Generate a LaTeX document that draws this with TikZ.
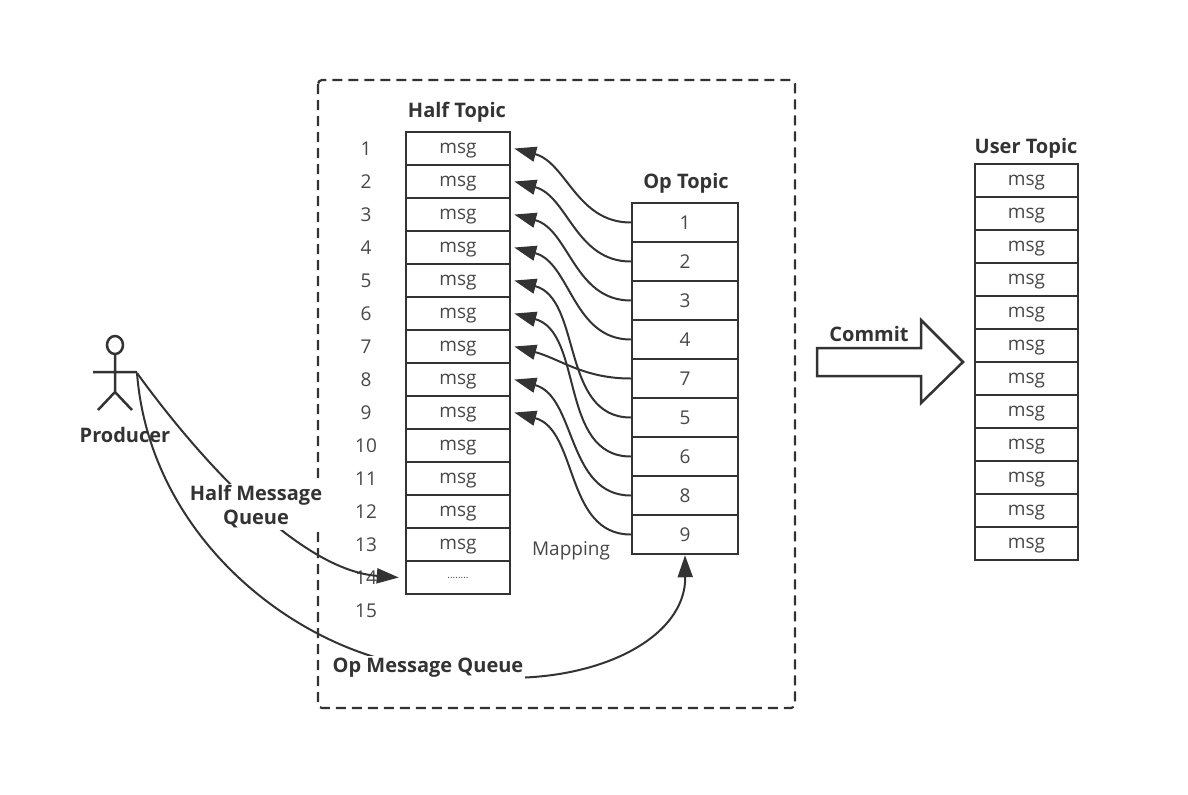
\documentclass[tikz,border=0pt]{standalone}
\usepackage{fontspec}
\setmainfont{Open Sans}
\usetikzlibrary{arrows.meta}
\definecolor{ink}{HTML}{333333}
\definecolor{txt}{HTML}{474747}

\begin{document}
\begin{tikzpicture}[x=0.5pt,y=0.5pt,
    cell/.style={draw=ink,line width=1.25pt,inner sep=0pt,text depth=0pt,text=txt,font=\fontsize{9.5}{11}\selectfont},
    half/.style={cell,minimum width=52pt,minimum height=16.5pt},
    op/.style={cell,minimum width=53pt,minimum height=19.5pt},
    user/.style={cell,minimum width=51.5pt,minimum height=16.5pt},
    idx/.style={text=txt,font=\fontsize{9.5}{11}\selectfont},
    head/.style={text=ink,font=\fontsize{10}{12}\selectfont\bfseries},
    wire/.style={draw=ink,line width=1pt},
    map/.style={wire,-{Triangle[length=11pt,width=7.5pt]}}]
  \useasboundingbox (0,0) rectangle (1188,-794);
  \draw[ink,line width=1.1pt,dash pattern=on 5pt off 3pt,rounded corners=2pt] (318,-80) rectangle (795,-708);

  \foreach \i in {1,...,15} {
    \node[idx] (n\i) at (366,-115.5-33*\i) {\i};
  }
  \foreach \i in {1,...,13} {
    \node[half] (h\i) at (458,-115.5-33*\i) {msg};
  }
  \node[half] (h14) at (458,-577.5) {\tiny........};
  \node[head] (halftitle) at (457,-112) {Half Topic};

  \foreach \v[count=\i] in {1,2,3,4,7,5,6,8,9} {
    \node[op] (o\i) at (685,-183.5-39*\i) {\v};
    \draw[map] (o\i.west) to[out=180,in=-15] ([xshift=1.5pt]h\v.east);
  }
  \node[head] (optitle) at (686,-183) {Op Topic};
  \node[idx] (mapping) at (571,-551) {Mapping};

  \foreach \i in {1,...,12} {
    \node[user] (u\i) at (1026.5,-147.5-33*\i) {msg};
  }
  \node[head] (usertitle) at (1026,-148) {User Topic};

  \draw[ink,line width=1.25pt] (817,-348) -- (921,-348) -- (921,-320) -- (963,-362)
    -- (921,-403) -- (921,-376) -- (817,-376) -- cycle;
  \node[head] (commit) at (869,-334) {Commit};

  \draw[ink,line width=1.25pt] (115,-345) ellipse [x radius=8,y radius=9]
    (115,-354) -- (115,-392) (93,-372) -- (137,-372)
    (98,-410) -- (115,-392) -- (132,-410);
  \coordinate (hand) at (137,-373);
  \node[head] (producer) at (125,-435) {Producer};

  \draw[map] (hand) .. controls (200,-460) and (300,-570) .. ([xshift=-3pt]h14.west);
  \node[head,fill=white,align=center,inner sep=1pt] (halfq) at (256,-507) {Half Message\\Queue};

  \coordinate (opmid) at (428,-668);
  \draw[wire] (hand) .. controls (150,-540) and (300,-655) .. (opmid);
  \draw[map] (opmid) .. controls (560,-700) and (686,-650) .. (o9.south);
  \node[head,fill=white,inner sep=1pt] (opq) at (opmid) {Op Message Queue};
\end{tikzpicture}
\end{document}
